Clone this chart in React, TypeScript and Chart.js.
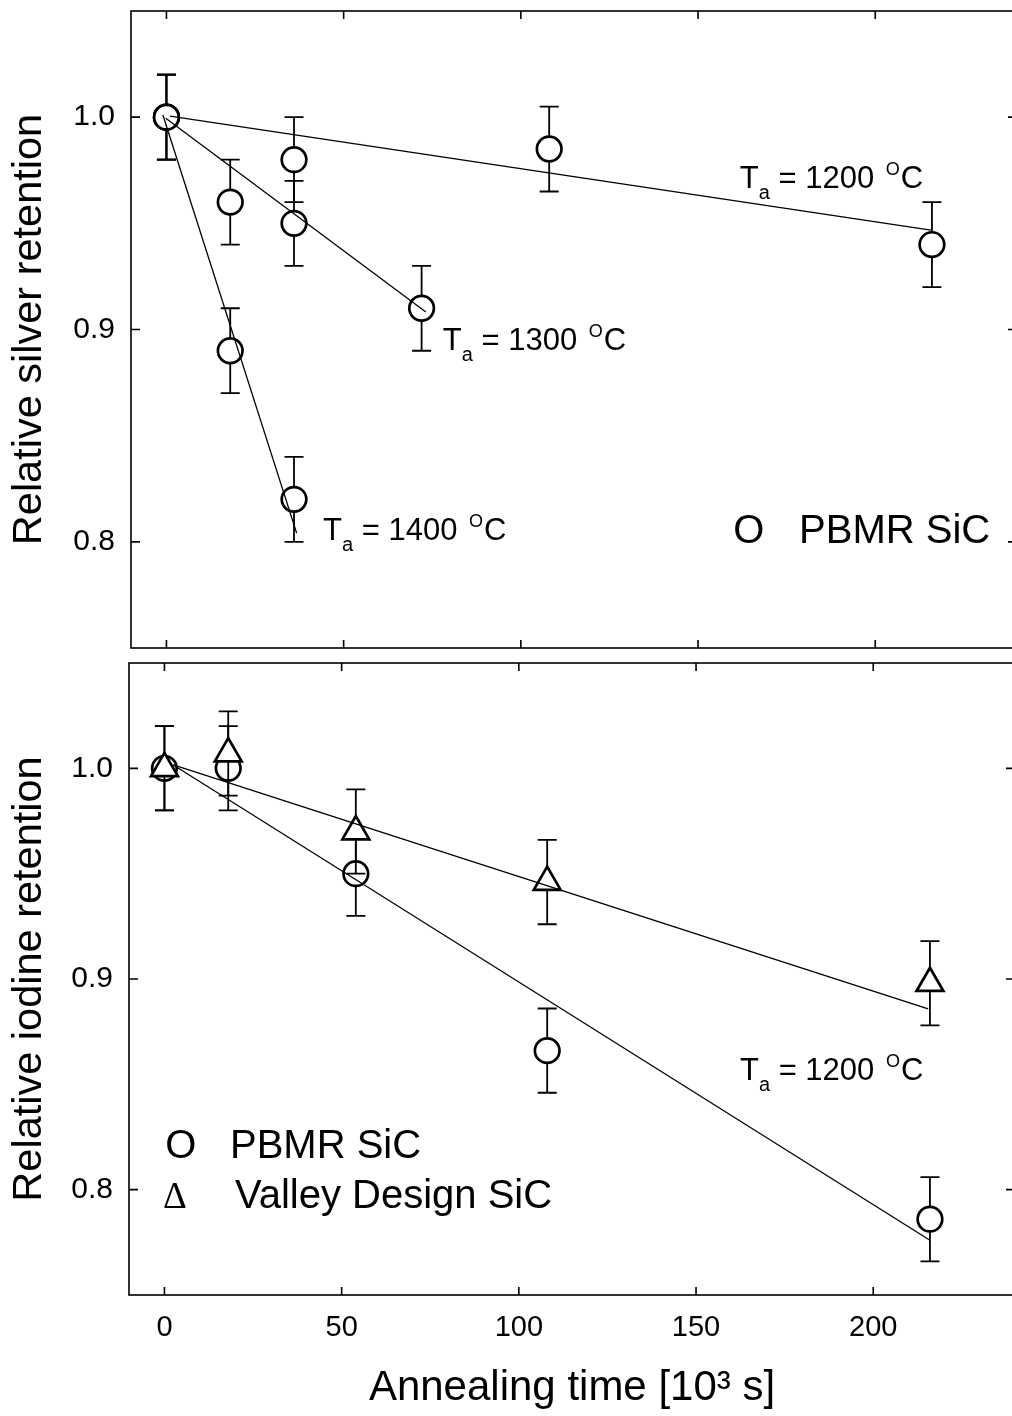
import { useEffect, useRef } from "react";
import { Chart, registerables } from "chart.js";

Chart.register(...registerables);

const FONT = "'Liberation Sans', Arial, Helvetica, sans-serif";
const SERIF = "'Liberation Serif', 'Times New Roman', serif";

// Axis ticks
const X_TICKS = [0, 50, 100, 150, 200];
const Y_TICKS = [0.8, 0.9, 1.0];

// Silver retention in PBMR SiC (annealing time in 10^3 s)
const AG_1200_TIME = [0, 36, 108, 216];
const AG_1200_RET = [1.0, 0.98, 0.985, 0.94];
const AG_1200_ERR = [0.02, 0.02, 0.02, 0.02];

const AG_1300_TIME = [0, 18, 36, 72];
const AG_1300_RET = [1.0, 0.96, 0.95, 0.91];
const AG_1300_ERR = [0.02, 0.02, 0.02, 0.02];

const AG_1400_TIME = [0, 18, 36];
const AG_1400_RET = [1.0, 0.89, 0.82];
const AG_1400_ERR = [0.02, 0.02, 0.02];

// Linear fits for silver
const AG_1200_FIT_TIME = [1, 215.7];
const AG_1200_FIT_RET = [1.0005, 0.9468];
const AG_1300_FIT_TIME = [-0.2, 73.2];
const AG_1300_FIT_RET = [0.9995, 0.9082];
const AG_1400_FIT_TIME = [-1, 36.75];
const AG_1400_FIT_RET = [1.001, 0.8041];

// Iodine retention at 1200 °C
const I_PBMR_TIME = [0, 18, 54, 108, 216];
const I_PBMR_RET = [1.0, 1.0, 0.95, 0.866, 0.786];
const I_PBMR_ERR = [0.02, 0.02, 0.02, 0.02, 0.02];

const I_VALLEY_TIME = [0, 18, 54, 108, 216];
const I_VALLEY_RET = [1.0, 1.007, 0.97, 0.946, 0.898];
const I_VALLEY_ERR = [0.02, 0.02, 0.02, 0.02, 0.02];

// Linear fits for iodine
const I_PBMR_FIT_TIME = [2.5, 216];
const I_PBMR_FIT_RET = [1.0016, 0.776];
const I_VALLEY_FIT_TIME = [2.5, 215.5];
const I_VALLEY_FIT_RET = [1.0016, 0.8858];

type Pt = { x: number; y: number };
const pts = (xs: number[], ys: number[]): Pt[] => xs.map((x, i) => ({ x, y: ys[i] }));

const circleSet = (xs: number[], ys: number[], errs: number[], order: number) => ({
  data: pts(xs, ys),
  errors: errs,
  pointStyle: "circle",
  pointRadius: 12.3,
  pointBorderWidth: 2.7,
  pointBorderColor: "#000",
  pointBackgroundColor: "#fff",
  showLine: false,
  order,
});

const triangleSet = (xs: number[], ys: number[], errs: number[], order: number) => ({
  data: pts(xs, ys),
  errors: errs,
  pointStyle: "triangle",
  pointRadius: 15.5,
  pointBorderWidth: 2.7,
  pointBorderColor: "#000",
  pointBackgroundColor: "#fff",
  showLine: false,
  order,
});

const fitSet = (xs: number[], ys: number[]) => ({
  data: pts(xs, ys),
  showLine: true,
  borderColor: "#000",
  borderWidth: 1.3,
  pointRadius: 0,
  fill: false,
  order: 1,
});

// Vertical error bars with caps, drawn just before each dataset's markers
const errorBarPlugin = {
  id: "errorBars",
  beforeDatasetDraw(chart: any, args: any) {
    const ds: any = chart.data.datasets[args.index];
    if (!ds.errors) return;
    const { ctx } = chart;
    const xs = chart.scales.x;
    const ys = chart.scales.y;
    ctx.save();
    ctx.strokeStyle = "#000";
    ctx.lineWidth = 1.8;
    ds.data.forEach((p: Pt, i: number) => {
      const e = ds.errors[i];
      const px = xs.getPixelForValue(p.x);
      const pt = ys.getPixelForValue(p.y + e);
      const pb = ys.getPixelForValue(p.y - e);
      ctx.beginPath();
      ctx.moveTo(px, pt);
      ctx.lineTo(px, pb);
      ctx.moveTo(px - 9.5, pt);
      ctx.lineTo(px + 9.5, pt);
      ctx.moveTo(px - 9.5, pb);
      ctx.lineTo(px + 9.5, pb);
      ctx.stroke();
    });
    ctx.restore();
  },
};

// Box around the plot area with inward ticks on all four sides
const framePlugin = {
  id: "frame",
  afterDraw(chart: any) {
    const { ctx, chartArea: a } = chart;
    const xs = chart.scales.x;
    const ys = chart.scales.y;
    ctx.save();
    ctx.strokeStyle = "#000";
    ctx.lineWidth = 1.6;
    ctx.strokeRect(a.left, a.top, a.right - a.left, a.bottom - a.top);
    ctx.beginPath();
    X_TICKS.forEach((v) => {
      const px = xs.getPixelForValue(v);
      ctx.moveTo(px, a.top);
      ctx.lineTo(px, a.top + 8);
      ctx.moveTo(px, a.bottom);
      ctx.lineTo(px, a.bottom - 8);
    });
    Y_TICKS.forEach((v) => {
      const py = ys.getPixelForValue(v);
      ctx.moveTo(a.left, py);
      ctx.lineTo(a.left + 9, py);
      ctx.moveTo(a.right, py);
      ctx.lineTo(a.right - 9, py);
    });
    ctx.stroke();
    ctx.restore();
  },
};

function drawTa(ctx: CanvasRenderingContext2D, x: number, y: number, temp: string) {
  ctx.fillStyle = "#000";
  ctx.textAlign = "left";
  ctx.textBaseline = "alphabetic";
  ctx.font = `31px ${FONT}`;
  ctx.fillText("T", x, y);
  let cx = x + ctx.measureText("T").width;
  ctx.font = `20px ${FONT}`;
  ctx.fillText("a", cx, y + 11);
  cx += ctx.measureText("a").width;
  ctx.font = `31px ${FONT}`;
  const mid = ` = ${temp} `;
  ctx.fillText(mid, cx, y);
  cx += ctx.measureText(mid).width + 3;
  ctx.font = `18px ${FONT}`;
  ctx.fillText("O", cx, y - 13);
  cx += ctx.measureText("O").width + 1;
  ctx.font = `31px ${FONT}`;
  ctx.fillText("C", cx, y);
}

type TaNote = { x: number; y: number; temp: string };
type KeyRow = { x: number; y: number; symbol: string; symbolFont: string; textX: number; text: string };

const notesPlugin = {
  id: "notes",
  afterDraw(chart: any, _args: any, opts: any) {
    const { ctx } = chart;
    const xs = chart.scales.x;
    const ys = chart.scales.y;
    ctx.save();
    (opts.ta || []).forEach((n: TaNote) => {
      drawTa(ctx, xs.getPixelForValue(n.x), ys.getPixelForValue(n.y), n.temp);
    });
    (opts.key || []).forEach((r: KeyRow) => {
      const py = ys.getPixelForValue(r.y);
      ctx.fillStyle = "#000";
      ctx.textAlign = "left";
      ctx.textBaseline = "alphabetic";
      ctx.font = r.symbolFont;
      ctx.fillText(r.symbol, xs.getPixelForValue(r.x), py);
      ctx.font = `40px ${FONT}`;
      ctx.fillText(r.text, xs.getPixelForValue(r.textX), py);
    });
    ctx.restore();
  },
};

const yAxis = (title: string, width: number) => ({
  type: "linear",
  position: "left",
  min: 0.75,
  max: 1.05,
  afterBuildTicks: (s: any) => {
    s.ticks = Y_TICKS.map((v) => ({ value: v }));
  },
  afterFit: (s: any) => {
    s.width = width;
    s.paddingTop = 0;
    s.paddingBottom = 0;
  },
  grid: { display: false, drawTicks: false },
  border: { display: false },
  ticks: {
    color: "#000",
    font: { family: FONT, size: 30 },
    padding: 16,
    callback: (v: any) => Number(v).toFixed(1),
  },
  title: {
    display: true,
    text: title,
    color: "#000",
    font: { family: FONT, size: 41.5 },
    padding: { top: 5, bottom: 0 },
  },
});

function topConfig(): any {
  return {
    type: "scatter",
    data: {
      datasets: [
        circleSet(AG_1200_TIME, AG_1200_RET, AG_1200_ERR, 5),
        circleSet(AG_1300_TIME, AG_1300_RET, AG_1300_ERR, 4),
        circleSet(AG_1400_TIME, AG_1400_RET, AG_1400_ERR, 3),
        fitSet(AG_1200_FIT_TIME, AG_1200_FIT_RET),
        fitSet(AG_1300_FIT_TIME, AG_1300_FIT_RET),
        fitSet(AG_1400_FIT_TIME, AG_1400_FIT_RET),
      ],
    },
    options: {
      animation: false,
      responsive: false,
      devicePixelRatio: 1,
      events: [],
      layout: { autoPadding: false, padding: { left: 0, top: 11, right: 13, bottom: 12 } },
      scales: {
        x: { type: "linear", min: -10, max: 240, display: false },
        y: yAxis("Relative silver retention", 131),
      },
      plugins: {
        legend: { display: false },
        tooltip: { enabled: false },
        notes: {
          ta: [
            { x: 161.8, y: 0.9666, temp: "1200" },
            { x: 78.0, y: 0.8903, temp: "1300" },
            { x: 44.2, y: 0.8008, temp: "1400" },
          ],
          key: [
            { x: 159.9, y: 0.7994, symbol: "O", symbolFont: `40px ${FONT}`, textX: 178.5, text: "PBMR SiC" },
          ],
        },
      },
    },
    plugins: [errorBarPlugin, framePlugin, notesPlugin],
  };
}

function bottomConfig(): any {
  return {
    type: "scatter",
    data: {
      datasets: [
        circleSet(I_PBMR_TIME, I_PBMR_RET, I_PBMR_ERR, 4),
        triangleSet(I_VALLEY_TIME, I_VALLEY_RET, I_VALLEY_ERR, 3),
        fitSet(I_PBMR_FIT_TIME, I_PBMR_FIT_RET),
        fitSet(I_VALLEY_FIT_TIME, I_VALLEY_FIT_RET),
      ],
    },
    options: {
      animation: false,
      responsive: false,
      devicePixelRatio: 1,
      events: [],
      layout: { autoPadding: false, padding: { left: 0, top: 13, right: 15, bottom: 0 } },
      scales: {
        x: {
          type: "linear",
          position: "bottom",
          min: -10,
          max: 240,
          afterBuildTicks: (s: any) => {
            s.ticks = X_TICKS.map((v) => ({ value: v }));
          },
          afterFit: (s: any) => {
            s.height = 121;
            s.paddingLeft = 0;
            s.paddingRight = 0;
          },
          grid: { display: false, drawTicks: false },
          border: { display: false },
          ticks: {
            color: "#000",
            font: { family: FONT, size: 29 },
            padding: 16,
            maxRotation: 0,
            callback: (v: any) => String(v),
          },
          title: {
            display: true,
            text: "Annealing time [10³ s]",
            color: "#000",
            font: { family: FONT, size: 42 },
            padding: { top: 0, bottom: 2 },
          },
        },
        y: yAxis("Relative iodine retention", 129),
      },
      plugins: {
        legend: { display: false },
        tooltip: { enabled: false },
        notes: {
          ta: [{ x: 162.4, y: 0.8521, temp: "1200" }],
          key: [
            { x: 0.2, y: 0.815, symbol: "O", symbolFont: `40px ${FONT}`, textX: 18.5, text: "PBMR SiC" },
            { x: -0.4, y: 0.7913, symbol: "Δ", symbolFont: `37px ${SERIF}`, textX: 19.9, text: "Valley Design SiC" },
          ],
        },
      },
    },
    plugins: [errorBarPlugin, framePlugin, notesPlugin],
  };
}

export default function App() {
  const topRef = useRef<HTMLCanvasElement | null>(null);
  const bottomRef = useRef<HTMLCanvasElement | null>(null);

  useEffect(() => {
    const charts: Chart[] = [];
    if (topRef.current) charts.push(new Chart(topRef.current, topConfig()));
    if (bottomRef.current) charts.push(new Chart(bottomRef.current, bottomConfig()));
    return () => charts.forEach((c) => c.destroy());
  }, []);

  return (
    <div
      style={{
        position: "fixed",
        left: 0,
        top: 0,
        width: 1012,
        height: 1416,
        overflow: "hidden",
        background: "#fff",
      }}
    >
      <canvas ref={topRef} width={1030} height={660} style={{ position: "absolute", left: 0, top: 0 }} />
      <canvas ref={bottomRef} width={1030} height={766} style={{ position: "absolute", left: 0, top: 650 }} />
    </div>
  );
}
